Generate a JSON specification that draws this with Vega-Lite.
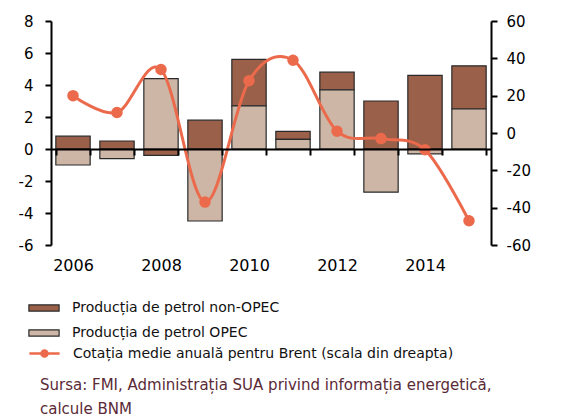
{
  "$schema": "https://vega.github.io/schema/vega-lite/v6.json",
  "width": 440,
  "height": 224,
  "padding": {"left": 18, "top": 14, "right": 5, "bottom": 3},
  "background": "white",
  "config": {
    "font": "DejaVu Sans",
    "view": {"stroke": null},
    "axis": {
      "domainColor": "#000000",
      "domainWidth": 2,
      "tickColor": "#000000",
      "tickWidth": 2,
      "tickSize": 6,
      "grid": false,
      "labelFont": "DejaVu Sans",
      "labelColor": "#000000",
      "labelFontSize": 15,
      "title": null
    },
    "legend": {
      "title": null,
      "padding": 0,
      "labelFont": "DejaVu Sans",
      "labelFontSize": 14,
      "labelColor": "#111111",
      "labelLimit": 600,
      "symbolSize": 400,
      "labelOffset": 17,
      "rowPadding": 7,
      "direction": "vertical",
      "orient": "none"
    }
  },
  "title": {
    "text": ["Sursa: FMI, Administrația SUA privind informația energetică,", "calcule BNM"],
    "orient": "bottom",
    "anchor": "start",
    "frame": "group",
    "font": "DejaVu Sans",
    "fontSize": 15,
    "fontWeight": "normal",
    "color": "#5a2a36",
    "lineHeight": 24,
    "offset": 16,
    "dx": -11
  },
  "datasets": {
    "bars": [
      {"year": 2006, "series": "Producția de petrol non-OPEC", "value": 0.8},
      {"year": 2006, "series": "Producția de petrol OPEC", "value": -1.0},
      {"year": 2007, "series": "Producția de petrol non-OPEC", "value": 0.5},
      {"year": 2007, "series": "Producția de petrol OPEC", "value": -0.6},
      {"year": 2008, "series": "Producția de petrol non-OPEC", "value": -0.4},
      {"year": 2008, "series": "Producția de petrol OPEC", "value": 4.4},
      {"year": 2009, "series": "Producția de petrol non-OPEC", "value": 1.8},
      {"year": 2009, "series": "Producția de petrol OPEC", "value": -4.5},
      {"year": 2010, "series": "Producția de petrol non-OPEC", "value": 2.9},
      {"year": 2010, "series": "Producția de petrol OPEC", "value": 2.7},
      {"year": 2011, "series": "Producția de petrol non-OPEC", "value": 0.5},
      {"year": 2011, "series": "Producția de petrol OPEC", "value": 0.6},
      {"year": 2012, "series": "Producția de petrol non-OPEC", "value": 1.1},
      {"year": 2012, "series": "Producția de petrol OPEC", "value": 3.7},
      {"year": 2013, "series": "Producția de petrol non-OPEC", "value": 3.0},
      {"year": 2013, "series": "Producția de petrol OPEC", "value": -2.7},
      {"year": 2014, "series": "Producția de petrol non-OPEC", "value": 4.6},
      {"year": 2014, "series": "Producția de petrol OPEC", "value": -0.3},
      {"year": 2015, "series": "Producția de petrol non-OPEC", "value": 2.7},
      {"year": 2015, "series": "Producția de petrol OPEC", "value": 2.5}
    ],
    "brent": [
      {"year": 2006, "series": "Cotația medie anuală pentru Brent (scala din dreapta)", "brent": 20},
      {"year": 2007, "series": "Cotația medie anuală pentru Brent (scala din dreapta)", "brent": 11},
      {"year": 2008, "series": "Cotația medie anuală pentru Brent (scala din dreapta)", "brent": 34},
      {"year": 2009, "series": "Cotația medie anuală pentru Brent (scala din dreapta)", "brent": -37},
      {"year": 2010, "series": "Cotația medie anuală pentru Brent (scala din dreapta)", "brent": 28},
      {"year": 2011, "series": "Cotația medie anuală pentru Brent (scala din dreapta)", "brent": 39},
      {"year": 2012, "series": "Cotația medie anuală pentru Brent (scala din dreapta)", "brent": 1},
      {"year": 2013, "series": "Cotația medie anuală pentru Brent (scala din dreapta)", "brent": -3},
      {"year": 2014, "series": "Cotația medie anuală pentru Brent (scala din dreapta)", "brent": -9},
      {"year": 2015, "series": "Cotația medie anuală pentru Brent (scala din dreapta)", "brent": -47}
    ]
  },
  "layer": [
    {
      "data": {"name": "bars"},
      "mark": {"type": "bar", "stroke": "#2a2a2a", "strokeWidth": 1.2},
      "encoding": {
        "x": {
          "field": "year",
          "type": "ordinal",
          "scale": {"paddingInner": 0.22, "paddingOuter": 0.11},
          "axis": {
            "labelAngle": 0,
            "offset": -96,
            "tickBand": "extent",
            "labelPadding": 102,
            "labelFontSize": 16,
            "zindex": 1,
            "labelExpr": "datum.value % 2 == 0 ? datum.label : ''"
          }
        },
        "y": {
          "field": "value",
          "type": "quantitative",
          "stack": "zero",
          "scale": {"domain": [-6, 8], "nice": false},
          "axis": {"values": [-6, -4, -2, 0, 2, 4, 6, 8], "labelPadding": 12, "orient": "left", "labelExpr": "replace(datum.label, '−', '-')"}
        },
        "fill": {
          "field": "series",
          "type": "nominal",
          "scale": {
            "domain": ["Producția de petrol non-OPEC", "Producția de petrol OPEC"],
            "range": ["#9b6049", "#cdb6a5"]
          },
          "legend": {
            "legendX": -18,
            "legendY": 276,
            "symbolType": "M-1.51,-0.31H1.51V0.31H-1.51Z",
            "symbolStrokeColor": "#2a2a2a",
            "symbolStrokeWidth": 1.2,
            "symbolOpacity": 1
          }
        },
        "order": {"field": "series", "sort": "ascending"}
      }
    },
    {
      "data": {"name": "brent"},
      "mark": {"type": "line", "interpolate": "cardinal", "strokeWidth": 3, "point": {"filled": true, "size": 90, "fill": "#ec6a4c"}},
      "encoding": {
        "x": {"field": "year", "type": "ordinal"},
        "y": {
          "field": "brent",
          "type": "quantitative",
          "scale": {"domain": [-60, 60], "nice": false},
          "axis": {"values": [-60, -40, -20, 0, 20, 40, 60], "labelPadding": 9, "orient": "right", "labelExpr": "replace(datum.label, '−', '-')"}
        },
        "stroke": {
          "field": "series",
          "type": "nominal",
          "scale": {"domain": ["Cotația medie anuală pentru Brent (scala din dreapta)"], "range": ["#ec6a4c"]},
          "legend": {
            "legendX": -18,
            "legendY": 321,
            "symbolType": "M-1.51,0H1.51M0.3,0A0.3,0.3 0 1,1 -0.3,0A0.3,0.3 0 1,1 0.3,0Z",
            "symbolFillColor": "#ec6a4c",
            "symbolStrokeWidth": 2.5,
            "symbolOpacity": 1
          }
        }
      }
    }
  ],
  "resolve": {"scale": {"y": "independent"}}
}
